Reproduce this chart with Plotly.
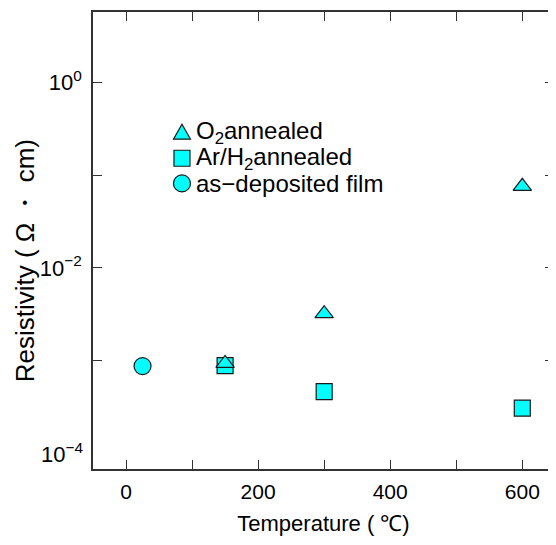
import math
import plotly.graph_objects as go

# Data
o2_temp = [150, 300, 600]
o2_res = [9.3e-4, 3.2e-3, 7.6e-2]

arh2_temp = [150, 300, 600]
arh2_res = [8.8e-4, 4.6e-4, 3.05e-4]

asdep_temp = [25]
asdep_res = [8.7e-4]

x_tickvals = [0, 200, 400, 600]
x_minor_tickvals = [100, 300, 500]
y_tickvals = [1e-3, 1e-2, 1e-1, 1]
y_ticktext = ["", "10<sup>\u22122</sup>", "", "10<sup>0</sup>"]
y_bottom_label_value = 1e-4
y_bottom_label = "10<sup>\u22124</sup>"

legend_labels = ["O<sub>2</sub>annealed", "Ar/H<sub>2</sub>annealed", "as\u2212deposited film"]

FONT = "Liberation Sans, Arial, sans-serif"
CYAN = "#00FFFF"
EDGE = "#1a1a1a"
AX = "#333333"

fig = go.Figure()
# squares first so the triangle sits on top at 150 C
fig.add_trace(go.Scatter(
    x=arh2_temp, y=arh2_res, mode="markers", name=legend_labels[1],
    marker=dict(symbol="square", size=16, color=CYAN, line=dict(color=EDGE, width=1.2)),
))
fig.add_trace(go.Scatter(
    x=asdep_temp, y=asdep_res, mode="markers", name=legend_labels[2],
    marker=dict(symbol="circle", size=17, color=CYAN, line=dict(color=EDGE, width=1.2)),
))
fig.add_trace(go.Scatter(
    x=o2_temp, y=o2_res, mode="markers", name=legend_labels[0],
    marker=dict(symbol="triangle-up", size=16, color=CYAN, line=dict(color=EDGE, width=1.2)),
))

# Hand-placed legend (symbols as pixel-sized shapes, labels as text)
leg_x = 0.193
leg_text_x = 0.219
leg_y = [0.736, 0.680, 0.625]
shape_style = dict(xref="paper", yref="paper", xsizemode="pixel", ysizemode="pixel",
                   fillcolor=CYAN, line=dict(color=EDGE, width=1.2), layer="above")
fig.add_shape(type="path", xanchor=leg_x, yanchor=leg_y[0],
              path="M-8.5,-6.5 L8.5,-6.5 L0,8.5 Z", **shape_style)
fig.add_shape(type="rect", xanchor=leg_x, yanchor=leg_y[1],
              x0=-8, x1=8, y0=-8, y1=8, **shape_style)
fig.add_shape(type="circle", xanchor=leg_x, yanchor=leg_y[2],
              x0=-8.5, x1=8.5, y0=-8.5, y1=8.5, **shape_style)
for lbl, yy in zip(legend_labels, leg_y):
    fig.add_annotation(x=leg_text_x, y=yy, xref="paper", yref="paper", text=lbl,
                       showarrow=False, xanchor="left", yanchor="middle",
                       font=dict(family=FONT, size=24, color="black"))

# y-axis title
fig.add_annotation(x=-0.147, y=0.455, xref="paper", yref="paper",
                   text="Resistivity ( \u03a9 \u30fb cm)", textangle=-90, showarrow=False,
                   xanchor="center", yanchor="middle",
                   font=dict(family=FONT, size=26, color="black"))

# lowest decade label (sits just above the axis corner)
fig.add_annotation(x=0, y=math.log10(y_bottom_label_value), xref="paper", yref="y",
                   text=y_bottom_label, showarrow=False, xanchor="right", yanchor="middle",
                   xshift=-8, font=dict(family=FONT, size=22, color="black"))

axis_common = dict(
    showgrid=False, zeroline=False, showline=True, linecolor=AX, linewidth=1.5,
    mirror="ticks", ticks="inside", ticklen=9, tickwidth=1.2, tickcolor=AX,
)

fig.update_layout(
    width=556, height=545,
    margin=dict(l=85, r=10, t=2, b=84),
    paper_bgcolor="white", plot_bgcolor="white",
    font=dict(family=FONT, size=20, color="black"),
    showlegend=False,
    xaxis=dict(
        range=[-50, 648], tickvals=x_tickvals,
        minor=dict(tickvals=x_minor_tickvals, ticks="inside", ticklen=9, tickwidth=1.2, tickcolor=AX),
        tickfont=dict(family=FONT, size=21, color="black"), ticklabelstandoff=3,
        title=dict(text="Temperature ( \u2103)", font=dict(family=FONT, size=22, color="black"), standoff=14),
        **axis_common,
    ),
    yaxis=dict(
        type="log", range=[-4.172, 0.763], tickvals=y_tickvals, ticktext=y_ticktext,
        tickfont=dict(family=FONT, size=22, color="black"), ticklabelstandoff=5,
        **axis_common,
    ),
)

fig.write_html("out.html")
